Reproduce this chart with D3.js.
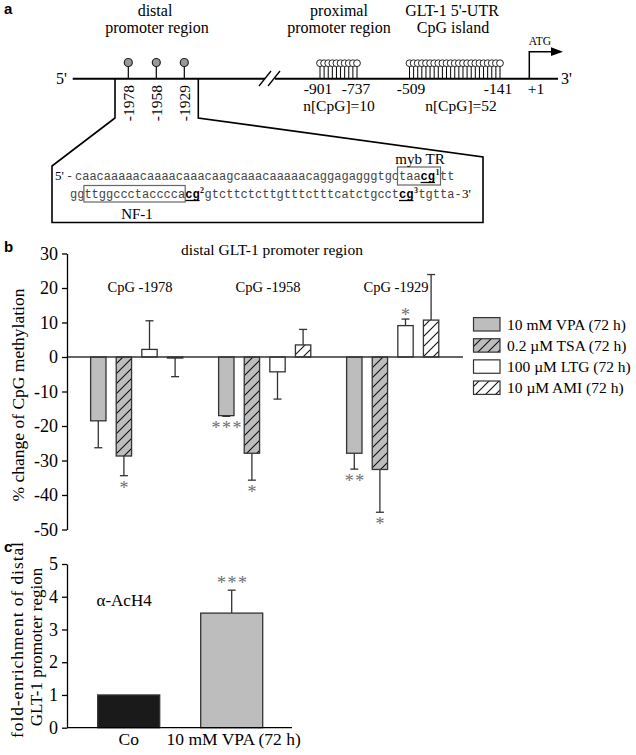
<!DOCTYPE html>
<html><head><meta charset="utf-8">
<script src="https://cdn.jsdelivr.net/npm/d3@7"></script>
<style>body{margin:0;background:#fff}svg{display:block}</style>
</head><body><svg id="c" width="636" height="755"></svg>
<script>
const SERIF="'Liberation Serif','Times New Roman',serif", SANS="'Liberation Sans',Arial,sans-serif", MONO="'Liberation Mono','Courier New',monospace";

// ---------- DATA ----------
// panel a (schematic)
const distalCpG = ["-1978","-1958","-1929"];
const proxLabels = ["-901","-737"];
const islandLabels = ["-509","-141"];
const nProxDrawn = 10;
const nIslandDrawn = 23;
const proxCount = "n[CpG]=10";
const islandCount = "n[CpG]=52";
// sequence segments: [text, type] type: n normal, b bold-underlined, s superscript
const seqLine1 = [["caacaaaaacaaaacaaacaagcaaacaaaaacaggagagggtgc","n"],["taa","n"],["cg","b"],["1","s"],["tt","n"]];
const seqLine2 = [["gg","n"],["ttggccctacccca","n"],["cg","b"],["2","s"],["gtcttctcttgtttctttcatctgcct","n"],["cg","b"],["3","s"],["tgtta-","n"]];

// panel b
const groups = ["CpG -1978","CpG -1958","CpG -1929"];
const series = ["10 mM VPA (72 h)","0.2 µM TSA (72 h)","100 µM LTG (72 h)","10 µM AMI (72 h)"];
const vpaVals = [-18.5,-17.0,-27.9], vpaErr = [7.8,0.2,4.6], vpaSig = ["","***","**"];
const tsaVals = [-28.7,-27.9,-32.6], tsaErr = [5.7,7.8,12.4], tsaSig = ["*","*","*"];
const ltgVals = [2.2,-4.3,9.1],      ltgErr = [8.3,7.9,1.9],  ltgSig = ["","","*"];
const amiVals = [-0.3,3.5,10.7],     amiErr = [5.4,4.5,13.2], amiSig = ["","",""];
const bTicks = [-50,-40,-30,-20,-10,0,10,20,30];

// panel c
const cCats = ["Co","10 mM VPA (72 h)"];
const cVals = [1.0,3.5], cErr = [0,0.7], cSig = ["","***"];
const cTicks = [0,1,2,3,4,5];

// ---------- SETUP ----------
const svg = d3.select("#c");
const defs = svg.append("defs");
function hatch(id,bg){
  const p = defs.append("pattern").attr("id",id).attr("patternUnits","userSpaceOnUse").attr("width",10).attr("height",10);
  p.append("rect").attr("width",10).attr("height",10).attr("fill",bg);
  p.append("path").attr("d","M-1,11 L11,-1 M-1,1 L1,-1 M9,11 L11,9").attr("stroke","#111").attr("stroke-width",1.1);
}
hatch("hGray","#bdbdbd"); hatch("hWhite","#ffffff");
const GRAY="#bdbdbd", STROKE="#333", STAR="#6e6e6e";
const fills = ["#bdbdbd","url(#hGray)","#ffffff","url(#hWhite)"];

function label(t,x,y){svg.append("text").attr("x",x).attr("y",y).attr("font-family",SANS).attr("font-weight","bold").attr("font-size",15).text(t);}
function txt(g,t,x,y,size,anchor,fam){return g.append("text").attr("x",x).attr("y",y).attr("font-family",fam||SERIF).attr("font-size",size).attr("text-anchor",anchor||"middle").text(t);}

// ---------- PANEL A ----------
label("a",4,14);
const A = svg.append("g");
const lineY = 78.7;
A.append("line").attr("x1",72.7).attr("x2",265).attr("y1",lineY).attr("y2",lineY).attr("stroke","#000").attr("stroke-width",2);
A.append("line").attr("x1",275).attr("x2",558).attr("y1",lineY).attr("y2",lineY).attr("stroke","#000").attr("stroke-width",2);
A.append("path").attr("d","M259,86 L271,71 M268,86 L280,71").attr("stroke","#000").attr("stroke-width",1.3).attr("fill","none");
txt(A,"5'",56,84,16,"start");
txt(A,"3'",561,84,16,"start");
txt(A,"distal",155,16,16); txt(A,"promoter region",157,33,16);
txt(A,"proximal",339,16,16); txt(A,"promoter region",339,33,16);
txt(A,"GLT-1 5'-UTR",452,16,16); txt(A,"CpG island",453,33,16);

const xD = d3.scalePoint().domain(distalCpG).range([128.3,184.3]);
distalCpG.forEach(d=>{
  A.append("line").attr("x1",xD(d)).attr("x2",xD(d)).attr("y1",66.5).attr("y2",lineY).attr("stroke","#000").attr("stroke-width",1.2);
  A.append("circle").attr("cx",xD(d)).attr("cy",62.5).attr("r",4).attr("fill","#999").attr("stroke","#222").attr("stroke-width",1.2);
  A.append("text").attr("transform",`translate(${xD(d)+5.5},85) rotate(-90)`).attr("text-anchor","end").attr("font-family",SERIF).attr("font-size",15.5).text(d);
});
const xP = d3.scalePoint().domain(d3.range(nProxDrawn)).range([320,357]);
d3.range(nProxDrawn).forEach(i=>{
  A.append("line").attr("x1",xP(i)).attr("x2",xP(i)).attr("y1",66.5).attr("y2",lineY).attr("stroke","#000").attr("stroke-width",1);
});
d3.range(nProxDrawn).forEach(i=>{
  A.append("circle").attr("cx",xP(i)).attr("cy",63.2).attr("r",3.4).attr("fill","#fff").attr("stroke","#222").attr("stroke-width",1);
});
const xI = d3.scalePoint().domain(d3.range(nIslandDrawn)).range([409.5,500]);
d3.range(nIslandDrawn).forEach(i=>{
  A.append("line").attr("x1",xI(i)).attr("x2",xI(i)).attr("y1",66.5).attr("y2",lineY).attr("stroke","#000").attr("stroke-width",1);
});
d3.range(nIslandDrawn).forEach(i=>{
  A.append("circle").attr("cx",xI(i)).attr("cy",63.2).attr("r",3.4).attr("fill","#fff").attr("stroke","#222").attr("stroke-width",1);
});
txt(A,proxLabels[0],318,94,15.5); txt(A,proxLabels[1],356,94,15.5);
txt(A,islandLabels[0],411,94,15.5); txt(A,islandLabels[1],498,94,15.5);
txt(A,"+1",536,94,15.5);
txt(A,proxCount,339,111,15.5); txt(A,islandCount,461,111,15.5);
A.append("path").attr("d",`M529.3,${lineY} V51.7 H553`).attr("stroke","#000").attr("stroke-width",1.5).attr("fill","none");
A.append("path").attr("d","M551,47.3 L563,51.7 L551,56 Z").attr("fill","#000");
txt(A,"ATG",540,45,11.5);

// bracket + box
A.append("path").attr("d","M115,78.7 V118 L52,166 V222.5 H483 V157 L198.3,118 V78.7").attr("stroke","#000").attr("stroke-width",1.6).attr("fill","none");

// sequence
const cw = 7.2, supW = 5;
function drawSeq(segs,x0,y){
  let idx=0, sups=0;
  const pos=[];
  segs.forEach(([t,type])=>{
    const x = x0 + idx*cw + sups*supW;
    pos.push(x);
    if(type==="s"){
      A.append("text").attr("x",x+0.5).attr("y",y-5).attr("font-family",SERIF).attr("font-size",8).attr("font-weight","bold").attr("fill","#111").text(t);
      sups++;
    } else {
      const el = A.append("text").attr("x",x).attr("y",y).attr("font-family",MONO).attr("font-size",12).attr("fill",type==="b"?"#000":"#444").text(t);
      if(type==="b"){ el.attr("font-weight","bold");
        A.append("line").attr("x1",x).attr("x2",x+t.length*cw).attr("y1",y+2.5).attr("y2",y+2.5).attr("stroke","#000").attr("stroke-width",1.3);}
      idx += t.length;
    }
  });
  pos.push(x0+idx*cw+sups*supW);
  return pos;
}
txt(A,"5'",55,180,13,"start");
A.append("text").attr("x",66).attr("y",180).attr("font-family",MONO).attr("font-size",12).attr("fill","#444").text("-");
const p1 = drawSeq(seqLine1,75,180);
const p2 = drawSeq(seqLine2,70,198);
txt(A,"3'",p2[p2.length-1]+0.5,198,13,"start");
// myb TR box around "taacg1"
A.append("rect").attr("x",p1[1]-1.5).attr("y",167).attr("width",p1[4]-p1[1]+2).attr("height",18).attr("fill","none").attr("stroke","#666").attr("stroke-width",1.2);
txt(A,"myb TR",420,164,15);
// NF-1 box
A.append("rect").attr("x",p2[1]-0.5).attr("y",185.5).attr("width",p2[2]-p2[1]+0.5).attr("height",16.5).attr("fill","none").attr("stroke","#666").attr("stroke-width",1.2);
txt(A,"NF-1",137,219,15);

// ---------- PANEL B ----------
label("b",4,252);
const B = svg.append("g");
const yB = d3.scaleLinear().domain([-50,30]).range([529.5,253.5]);
const xG = d3.scaleBand().domain(groups).range([85.5,469.5]);
const xS = d3.scaleBand().domain(series).range([0,xG.bandwidth()*0.8]).paddingInner(0.4).paddingOuter(0.2);
const allVals=[vpaVals,tsaVals,ltgVals,amiVals], allErr=[vpaErr,tsaErr,ltgErr,amiErr], allSig=[vpaSig,tsaSig,ltgSig,amiSig];

txt(B,"distal GLT-1 promoter region",272,255,15.5);
groups.forEach((g,gi)=>{
  txt(B,g,xG(g)+54.5,yB(18.8),14.5);
  series.forEach((s,si)=>{
    const v=allVals[si][gi], e=allErr[si][gi], sig=allSig[si][gi];
    const x=xG(g)+xS(s), w=xS.bandwidth(), cx=x+w/2;
    const dir = v<0?-1:1;
    const end = v+dir*e;
    B.append("line").attr("x1",cx).attr("x2",cx).attr("y1",yB(v)).attr("y2",yB(end)).attr("stroke",STROKE).attr("stroke-width",1.3);
    B.append("line").attr("x1",cx-4).attr("x2",cx+4).attr("y1",yB(end)).attr("y2",yB(end)).attr("stroke",STROKE).attr("stroke-width",1.3);
    B.append("rect").attr("x",x).attr("width",w).attr("y",yB(Math.max(0,v))).attr("height",Math.abs(yB(v)-yB(0)))
      .attr("fill",fills[si]).attr("stroke",STROKE).attr("stroke-width",1.3);
    if(sig){
      const yy = dir<0? yB(end)+18 : yB(end)+1.5;
      B.append("text").attr("x",cx+(sig.length>1?1:0)).attr("y",yy).attr("text-anchor","middle").attr("font-family",SERIF).attr("font-size",18).attr("fill",STAR).attr("letter-spacing",sig.length>1?1.5:0).text(sig);
    }
  });
});
B.append("line").attr("x1",67).attr("x2",463).attr("y1",yB(0)).attr("y2",yB(0)).attr("stroke",STROKE).attr("stroke-width",1.3);
const axB = B.append("g").attr("transform","translate(67,0)")
  .call(d3.axisLeft(yB).tickValues(bTicks).tickSize(5).tickSizeOuter(0).tickPadding(4).tickFormat(d=>String(d)));
axB.selectAll("text").attr("font-family",SERIF).attr("font-size",18).attr("fill","#000");
axB.selectAll("line,path").attr("stroke","#000").attr("stroke-width",1.3);
B.append("text").attr("transform",`translate(24,395) rotate(-90)`).attr("text-anchor","middle").attr("font-family",SERIF).attr("font-size",17.5).text("% change of CpG methylation");

// legend
const legY = d3.scalePoint().domain(series).range([324.3,387.7]);
series.forEach((s,si)=>{
  B.append("rect").attr("x",473.5).attr("y",legY(s)-6.7).attr("width",26.5).attr("height",13.4).attr("fill",fills[si]).attr("stroke",STROKE).attr("stroke-width",1.2);
  txt(B,s,507,legY(s)+5.5,15.5,"start");
});

// ---------- PANEL C ----------
label("c",4,552);
const C = svg.append("g");
const yC = d3.scaleLinear().domain([0,5]).range([727.7,564]);
const xC = d3.scaleBand().domain(cCats).range([77.1,283.3]).paddingInner(0.398).paddingOuter(0.2);
const cFill = ["#1a1a1a",GRAY];
cCats.forEach((k,i)=>{
  const x=xC(k), w=xC.bandwidth(), cx=x+w/2, v=cVals[i], e=cErr[i];
  if(e>0){
    C.append("line").attr("x1",cx).attr("x2",cx).attr("y1",yC(v)).attr("y2",yC(v+e)).attr("stroke",STROKE).attr("stroke-width",1.3);
    C.append("line").attr("x1",cx-4).attr("x2",cx+4).attr("y1",yC(v+e)).attr("y2",yC(v+e)).attr("stroke",STROKE).attr("stroke-width",1.3);
  }
  C.append("rect").attr("x",x).attr("width",w).attr("y",yC(v)).attr("height",yC(0)-yC(v)).attr("fill",cFill[i]).attr("stroke",STROKE).attr("stroke-width",1.3);
  if(cSig[i]) C.append("text").attr("x",cx+1).attr("y",yC(v+e)-1).attr("text-anchor","middle").attr("font-family",SERIF).attr("font-size",18).attr("fill",STAR).attr("letter-spacing",1.5).text(cSig[i]);
  txt(C,k,cx+(i===0?0:2),745,17.5);
});
C.append("line").attr("x1",67).attr("x2",292).attr("y1",yC(0)).attr("y2",yC(0)).attr("stroke","#000").attr("stroke-width",1.3);
const axC = C.append("g").attr("transform","translate(67,0)")
  .call(d3.axisLeft(yC).tickValues(cTicks).tickSize(5).tickSizeOuter(0).tickPadding(4).tickFormat(d=>String(d)));
axC.selectAll("text").attr("font-family",SERIF).attr("font-size",18).attr("fill","#000");
axC.selectAll("line,path").attr("stroke","#000").attr("stroke-width",1.3);
txt(C,"α-AcH4",96.5,606,17,"start");
C.append("text").attr("transform",`translate(23,640) rotate(-90)`).attr("text-anchor","middle").attr("font-family",SERIF).attr("font-size",17.5).attr("textLength",196).attr("lengthAdjust","spacing").text("fold-enrichment of distal");
C.append("text").attr("transform",`translate(42,647) rotate(-90)`).attr("text-anchor","middle").attr("font-family",SERIF).attr("font-size",17).text("GLT-1 promoter region");
</script></body></html>
